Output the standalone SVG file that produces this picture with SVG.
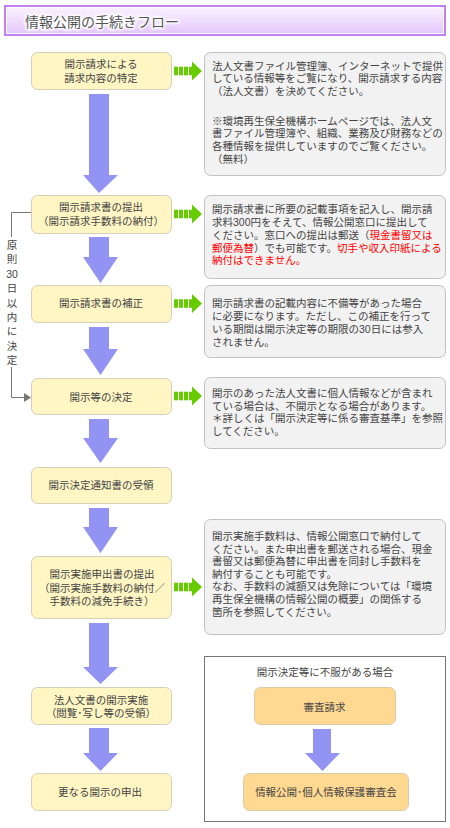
<svg xmlns="http://www.w3.org/2000/svg" width="450" height="828" viewBox="0 0 450 828">
<defs>
<linearGradient id="hg" x1="0" y1="0" x2="0" y2="1">
<stop offset="0" stop-color="#faf4ff"/>
<stop offset="1" stop-color="#e2c4fa"/>
</linearGradient>
<filter id="glow" x="-10%" y="-50%" width="120%" height="200%">
<feGaussianBlur stdDeviation="1.2"/>
</filter>
<g id="garrow">
<rect x="0" y="-4.3" width="4" height="8.6"/>
<rect x="5" y="-4.3" width="4" height="8.6"/>
<rect x="10" y="-4.3" width="4" height="8.6"/>
<polygon points="15,-4.3 18,-4.3 18,-9.5 28,0 18,9.5 18,4.3 15,4.3"/>
</g>
</defs>
<style>
text{font-family:"Liberation Sans","Noto Sans CJK JP","Noto Sans CJK SC",sans-serif;font-size:10.5px;fill:#444}
.node rect{fill:#fff6c4;stroke:#d4cfb6;stroke-width:1}
.note rect{fill:#f2f2f2;stroke:#c2c2c2;stroke-width:1}
.node text{text-anchor:middle}
.orange rect{fill:#ffd992;stroke:#d9cba4;stroke-width:1}
.orange text{text-anchor:middle}
.blue{fill:#9393f3}
.green{fill:#66cc00}
.red{fill:#ff0000}
.line{fill:none;stroke:#777;stroke-width:1}
</style>

<g id="header">
<rect x="5" y="6" width="440" height="29" fill="url(#hg)" stroke="#c480f2" stroke-width="2"/>
<rect x="6.5" y="7.5" width="437" height="26" fill="none" stroke="#ffffff" stroke-width="1"/>
<text x="25" y="27" style="font-size:14px;fill:#fff;stroke:#fff;stroke-width:3" filter="url(#glow)">情報公開の手続きフロー</text>
<text x="25" y="27" style="font-size:14px;fill:#555">情報公開の手続きフロー</text>
</g>

<g id="n1" class="node"><rect x="31.5" y="52.5" width="140" height="37" rx="6"/><text><tspan x="101" y="68">開示請求による</tspan><tspan x="101" y="82">請求内容の特定</tspan></text></g>
<g id="n2" class="node"><rect x="31.5" y="195.5" width="140" height="38" rx="6"/><text><tspan x="101" y="211">開示請求書の提出</tspan><tspan x="101" y="225">（開示請求手数料の納付）</tspan></text></g>
<g id="n3" class="node"><rect x="31.5" y="285.5" width="140" height="37" rx="6"/><text x="101" y="307">開示請求書の補正</text></g>
<g id="n4" class="node"><rect x="31.5" y="378.5" width="140" height="36" rx="6"/><text x="101" y="400.5">開示等の決定</text></g>
<g id="n5" class="node"><rect x="31.5" y="467.5" width="140" height="36" rx="6"/><text x="101" y="489">開示決定通知書の受領</text></g>
<g id="n6" class="node"><rect x="31.5" y="556.5" width="140" height="62" rx="6"/><text><tspan x="102" y="578">開示実施申出書の提出</tspan><tspan x="102" y="591.5">（開示実施手数料の納付／</tspan><tspan x="102" y="605">手数料の減免手続き）</tspan></text></g>
<g id="n7" class="node"><rect x="31.5" y="687.5" width="140" height="37" rx="6"/><text><tspan x="101" y="704">法人文書の開示実施</tspan><tspan x="101" y="717">（閲覧･写し等の受領）</tspan></text></g>
<g id="n8" class="node"><rect x="31.5" y="773.5" width="140" height="37" rx="6"/><text x="100" y="796">更なる開示の申出</text></g>

<g id="b1" class="note"><rect x="204.5" y="52.5" width="241" height="123" rx="6"/>
<text><tspan x="212" y="69.5">法人文書ファイル管理簿、インターネットで提供</tspan><tspan x="212" y="82">している情報等をご覧になり、開示請求する内容</tspan><tspan x="212" y="94.7">（法人文書）を決めてください。</tspan><tspan x="212" y="124.5">※環境再生保全機構ホームページでは、法人文</tspan><tspan x="212" y="137">書ファイル管理簿や、組織、業務及び財務などの</tspan><tspan x="212" y="149.7">各種情報を提供していますのでご覧ください。</tspan><tspan x="212" y="162.5">（無料）</tspan></text>
</g>
<g id="b2" class="note"><rect x="204.5" y="195.5" width="241" height="83" rx="6"/>
<text><tspan x="212" y="213">開示請求書に所要の記載事項を記入し、開示請</tspan><tspan x="212" y="226">求料300円をそえて、情報公開窓口に提出して</tspan><tspan x="212" y="238.5">ください。窓口への提出は郵送（</tspan><tspan class="red">現金書留又は</tspan><tspan x="212" y="251.5" class="red">郵便為替</tspan><tspan>）でも可能です。</tspan><tspan class="red">切手や収入印紙による</tspan><tspan x="212" y="264" class="red">納付はできません。</tspan></text>
</g>
<g id="b3" class="note"><rect x="204.5" y="285.5" width="241" height="72" rx="6"/>
<text><tspan x="212" y="307">開示請求書の記載内容に不備等があった場合</tspan><tspan x="212" y="320">に必要になります。ただし、この補正を行って</tspan><tspan x="212" y="333">いる期間は開示決定等の期限の30日には参入</tspan><tspan x="212" y="346">されません。</tspan></text>
</g>
<g id="b4" class="note"><rect x="204.5" y="377.5" width="241" height="71" rx="6"/>
<text><tspan x="212" y="397">開示のあった法人文書に個人情報などが含まれ</tspan><tspan x="212" y="409.5">ている場合は、不開示となる場合があります。</tspan><tspan x="212" y="422">＊詳しくは「開示決定等に係る審査基準」を参照</tspan><tspan x="212" y="435">してください。</tspan></text>
</g>
<g id="b5" class="note"><rect x="204.5" y="519.5" width="241" height="115" rx="6"/>
<text><tspan x="212" y="540">開示実施手数料は、情報公開窓口で納付して</tspan><tspan x="212" y="552.6">ください。また申出書を郵送される場合、現金</tspan><tspan x="212" y="565.2">書留又は郵便為替に申出書を同封し手数料を</tspan><tspan x="212" y="577.8">納付することも可能です。</tspan><tspan x="212" y="590.4">なお、手数料の減額又は免除については「環境</tspan><tspan x="212" y="603">再生保全機構の情報公開の概要」の関係する</tspan><tspan x="212" y="615.6">箇所を参照してください。</tspan></text>
</g>

<g id="appeal">
<rect x="204.5" y="656.5" width="241" height="165" fill="#fff" stroke="#777" stroke-width="1"/>
<text x="325" y="676" style="text-anchor:middle">開示決定等に不服がある場合</text>
</g>
<g id="n9" class="orange"><rect x="254.5" y="687.5" width="141" height="37" rx="6"/><text x="324.5" y="711">審査請求</text></g>
<g id="n10" class="orange"><rect x="243.5" y="773.5" width="165" height="37" rx="6"/><text x="326" y="796">情報公開･個人情報保護審査会</text></g>

<g id="label">
<text style="text-anchor:middle"><tspan x="12" y="249">原</tspan><tspan x="12" y="263.4">則</tspan><tspan x="12" y="277.8">30</tspan><tspan x="12" y="292.2">日</tspan><tspan x="12" y="306.6">以</tspan><tspan x="12" y="321">内</tspan><tspan x="12" y="335.4">に</tspan><tspan x="12" y="349.8">決</tspan><tspan x="12" y="364.2">定</tspan></text>
</g>

<g id="connectors">
<path class="line" d="M31 212.5 H11.5 V237"/>
<path class="line" d="M11.5 367 V397.5 H25"/>
<polygon points="24,393 31,397.5 24,402" fill="#777"/>
<g class="blue">
<polygon points="89,94 109,94 109,175 118,175 99,193 83,175 89,175"/>
<polygon points="89,237 109,237 109,257 118,257 100.5,283 83,257 89,257"/>
<polygon points="89,327 109,327 109,349 118,349 100.5,375 83,349 89,349"/>
<polygon points="89,419 109,419 109,438 118,438 100.5,463 83,438 89,438"/>
<polygon points="89,508 109,508 109,527 118,527 100.5,553 83,527 89,527"/>
<polygon points="89,623 109,623 109,667 118,667 100.5,684 83,667 89,667"/>
<polygon points="89,728 109,728 109,753 118,753 100.5,771 83,753 89,753"/>
<polygon points="313,729 331,729 331,753 340,753 322.5,771 305,753 313,753"/>
</g>
<g class="green">
<use href="#garrow" x="174" y="71"/>
<use href="#garrow" x="174" y="214"/>
<use href="#garrow" x="174" y="303.5"/>
<use href="#garrow" x="174" y="396"/>
<use href="#garrow" x="174" y="587"/>
</g>
</g>
</svg>
